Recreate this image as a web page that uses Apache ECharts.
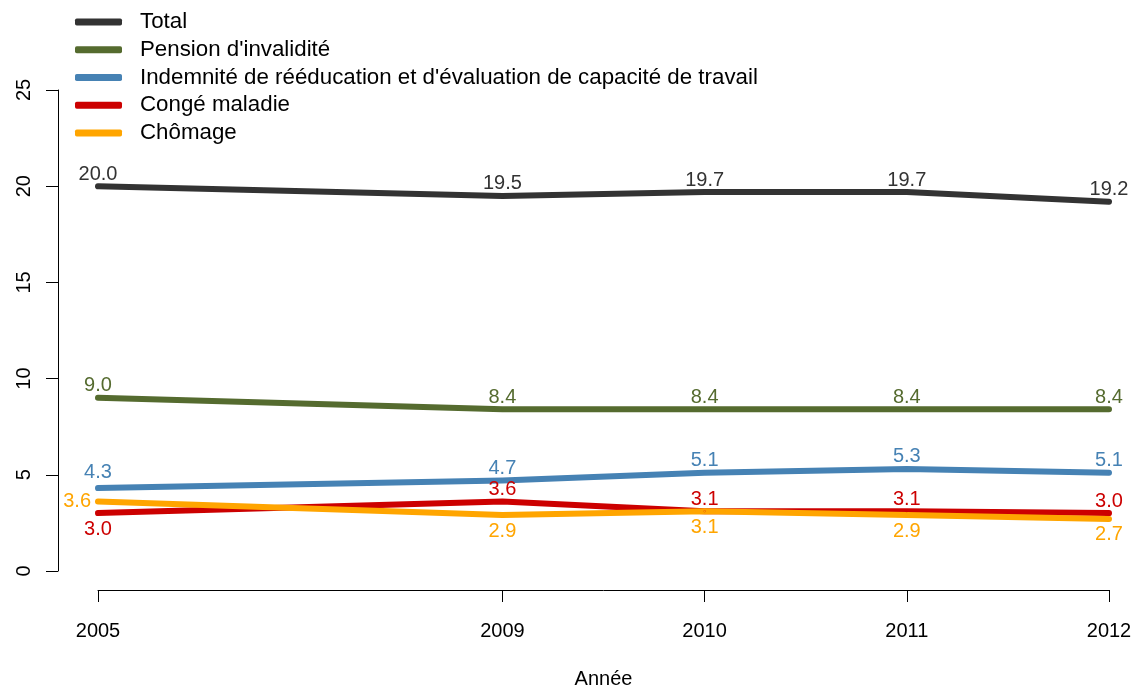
<!DOCTYPE html>
<html>
<head>
<meta charset="utf-8">
<script src="https://cdn.jsdelivr.net/npm/echarts@6/dist/echarts.min.js"></script>
<style>
  html, body { margin: 0; padding: 0; background: #fff; }
  #chart { width: 1136px; height: 685px; }
</style>
</head>
<body>
<div id="chart"></div>
<script>
// Years on the x axis; the blank slot keeps the wider 2005–2009 gap.
const years = ['2005', '', '2009', '2010', '2011', '2012'];

// Rates per series (null = no observation in the gap slot).
const total      = [20.0, null, 19.5, 19.7, 19.7, 19.2];
const invalidite = [9.0,  null, 8.4,  8.4,  8.4,  8.4];
const indemnite  = [4.3,  null, 4.7,  5.1,  5.3,  5.1];
const conge      = [3.0,  null, 3.6,  3.1,  3.1,  3.0];
const chomage    = [3.6,  null, 2.9,  3.1,  2.9,  2.7];

// Where each value label sits relative to its point.
const posTotal      = ['top', null, 'top', 'top', 'top', 'top'];
const posInvalidite = ['top', null, 'top', 'top', 'top', 'top'];
const posIndemnite  = ['top+', null, 'top', 'top', 'top', 'top'];
const posConge      = ['bottom', null, 'top', 'top', 'top', 'top'];
const posChomage    = ['left', null, 'bottom', 'bottom', 'bottom', 'bottom'];

const yTicks = [0, 5, 10, 15, 20, 25];

const FONT = 'Liberation Sans, Arial, Helvetica, sans-serif';

// label gap from the point for each placement ('top+' = lifted a little higher)
const LABEL_GAP = { 'top': 1, 'top+': 5, 'bottom': 5, 'left': 6 };

function makeSeries(name, values, positions, color) {
  return {
    name: name,
    type: 'line',
    xAxisIndex: 0,
    yAxisIndex: 0,
    symbol: 'circle',
    symbolSize: 2,
    showSymbol: true,
    connectNulls: true,
    lineStyle: { color: color, width: 6, cap: 'round', join: 'round' },
    itemStyle: { color: color },
    label: {
      show: true,
      color: color,
      fontFamily: FONT,
      fontSize: 20,
      formatter: p => Number(p.value).toFixed(1)
    },
    data: values.map((v, i) => v === null ? null : {
      value: v,
      label: {
        position: positions[i] === 'top+' ? 'top' : positions[i],
        distance: LABEL_GAP[positions[i]]
      }
    }),
    z: 2
  };
}

const chart = echarts.init(document.getElementById('chart'), null, { renderer: 'canvas' });

chart.setOption({
  animation: false,
  backgroundColor: '#ffffff',
  textStyle: { fontFamily: FONT },
  legend: {
    orient: 'vertical',
    left: 75,
    top: 11,
    padding: 0,
    itemWidth: 47,
    itemHeight: 7,
    itemGap: 5.75,
    icon: 'roundRect',
    textStyle: { fontFamily: FONT, fontSize: 22.3, color: '#000', lineHeight: 22, padding: [0, 0, 0, 13] },
    data: ['Total', "Pension d'invalidité", "Indemnité de rééducation et d'évaluation de capacité de travail", 'Congé maladie', 'Chômage']
  },
  grid: [
    // data area (value range padded below 0 and above 25)
    { left: 98, right: 27, top: 71, bottom: 95, outerBoundsMode: 'none', containLabel: false },
    // value axis spanning 0–25
    { left: 58, width: 1051, top: 90, bottom: 114, outerBoundsMode: 'none', containLabel: false }
  ],
  xAxis: [
    {
      gridIndex: 0,
      type: 'category',
      data: years,
      boundaryGap: false,
      axisLine: { show: true, onZero: false, lineStyle: { color: '#000', width: 1 } },
      axisTick: { show: true, length: 12, lineStyle: { color: '#000' },
                  interval: (i, v) => v !== '' },
      axisLabel: { show: true, color: '#000', fontSize: 20, margin: 31, fontFamily: FONT,
                   interval: 0 },
      splitLine: { show: false },
      name: 'Année',
      nameLocation: 'middle',
      nameGap: 79,
      nameTextStyle: { color: '#000', fontSize: 20, fontFamily: FONT }
    },
    { gridIndex: 1, type: 'value', show: false }
  ],
  yAxis: [
    { gridIndex: 0, type: 'value', min: -1, max: 26, show: false, splitLine: { show: false } },
    {
      gridIndex: 1,
      type: 'value',
      min: 0,
      max: 25,
      interval: 5,
      axisLine: { show: true, lineStyle: { color: '#000', width: 1 } },
      axisTick: { show: true, length: 12, lineStyle: { color: '#000' } },
      axisLabel: { color: '#000', fontSize: 20, rotate: 90, margin: 24, fontFamily: FONT,
                   customValues: yTicks },
      splitLine: { show: false }
    }
  ],
  series: [
    makeSeries('Total', total, posTotal, '#333333'),
    makeSeries("Pension d'invalidité", invalidite, posInvalidite, '#556B2F'),
    makeSeries("Indemnité de rééducation et d'évaluation de capacité de travail", indemnite, posIndemnite, '#4682B4'),
    makeSeries('Congé maladie', conge, posConge, '#CC0000'),
    makeSeries('Chômage', chomage, posChomage, '#FFA500')
  ]
});
</script>
</body>
</html>
